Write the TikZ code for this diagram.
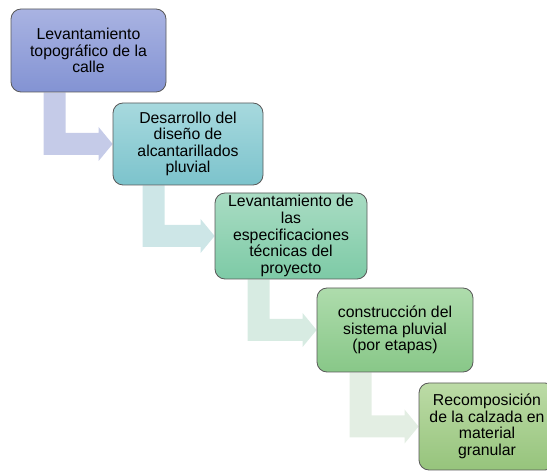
\documentclass[tikz,border=0pt]{standalone}
\usepackage{fontspec}
\setmainfont{Liberation Sans}
\usepackage{xcolor}
\usetikzlibrary{calc,backgrounds}

\definecolor{boxAtop}{HTML}{A9B3E2}
\definecolor{boxAbot}{HTML}{8393D3}
\definecolor{boxBtop}{HTML}{A7D9DE}
\definecolor{boxBbot}{HTML}{7CC3CC}
\definecolor{boxCtop}{HTML}{A9DCC3}
\definecolor{boxCbot}{HTML}{7DCAA6}
\definecolor{boxDtop}{HTML}{AEDCAC}
\definecolor{boxDbot}{HTML}{88C788}
\definecolor{boxEtop}{HTML}{BCDBA6}
\definecolor{boxEbot}{HTML}{96C47C}
\definecolor{arrA}{HTML}{C5CBE8}
\definecolor{arrB}{HTML}{CDE6E7}
\definecolor{arrC}{HTML}{D7EBE2}
\definecolor{arrD}{HTML}{E3EEE3}

\tikzset{
    stepbox/.style={draw=black!65, line width=0.8pt, rounded corners=10pt,
        align=center, inner sep=0pt, font=\fontsize{15.8}{16.6}\selectfont}
}

\begin{document}
\begin{tikzpicture}[x=1pt,y=-1pt]
    \useasboundingbox (0,0) rectangle (547,473);
    \clip (0,0) rectangle (547,473);

    \node[stepbox, top color=boxAtop, bottom color=boxAbot, minimum width=155pt, minimum height=83pt] (levant) at (88.5,50.5) {Levantamiento\\topográfico de la\\calle};
    \node[stepbox, top color=boxBtop, bottom color=boxBbot, minimum width=150pt, minimum height=82pt] (diseno) at (188,144) {Desarrollo del\\diseño de\\alcantarillados\\pluvial};
    \node[stepbox, top color=boxCtop, bottom color=boxCbot, minimum width=152pt, minimum height=86pt] (especif) at (291,236) {Levantamiento de\\las\\especificaciones\\técnicas del\\proyecto};
    \node[stepbox, top color=boxDtop, bottom color=boxDbot, minimum width=156pt, minimum height=84pt] (constr) at (395,330) {construcción del\\sistema pluvial\\(por etapas)};
    \node[stepbox, top color=boxEtop, bottom color=boxEbot, minimum width=136pt, minimum height=87pt] (recomp) at (487,426.5) {Recomposición\\de la calzada en\\material\\granular};

    % bent arrows between the steps
    \begin{scope}[on background layer]
    \fill[arrA] let \p1=(levant.south west), \p2=(diseno.west) in
        (\x1+33pt,\y1) -- (\x1+55pt,\y1) -- (\x1+55pt,\y2+11pt) -- (\x2-14pt,\y2+11pt)
        -- (\x2-14pt,\y2+17pt) -- (\x2,\y2) -- (\x2-14pt,\y2-17pt) -- (\x2-14pt,\y2-11pt)
        -- (\x1+33pt,\y2-11pt) -- cycle;
    \fill[arrB] let \p1=(diseno.south west), \p2=(especif.west) in
        (\x1+30pt,\y1) -- (\x1+52pt,\y1) -- (\x1+52pt,\y2+11pt) -- (\x2-14pt,\y2+11pt)
        -- (\x2-14pt,\y2+17pt) -- (\x2,\y2) -- (\x2-14pt,\y2-17pt) -- (\x2-14pt,\y2-11pt)
        -- (\x1+30pt,\y2-11pt) -- cycle;
    \fill[arrC] let \p1=(especif.south west), \p2=(constr.west) in
        (\x1+33pt,\y1) -- (\x1+55pt,\y1) -- (\x1+55pt,\y2+11pt) -- (\x2-14pt,\y2+11pt)
        -- (\x2-14pt,\y2+17pt) -- (\x2,\y2) -- (\x2-14pt,\y2-17pt) -- (\x2-14pt,\y2-11pt)
        -- (\x1+33pt,\y2-11pt) -- cycle;
    \fill[arrD] let \p1=(constr.south west), \p2=(recomp.west) in
        (\x1+33pt,\y1) -- (\x1+55pt,\y1) -- (\x1+55pt,\y2+11pt) -- (\x2-14pt,\y2+11pt)
        -- (\x2-14pt,\y2+17pt) -- (\x2,\y2) -- (\x2-14pt,\y2-17pt) -- (\x2-14pt,\y2-11pt)
        -- (\x1+33pt,\y2-11pt) -- cycle;
    \end{scope}
\end{tikzpicture}
\end{document}
